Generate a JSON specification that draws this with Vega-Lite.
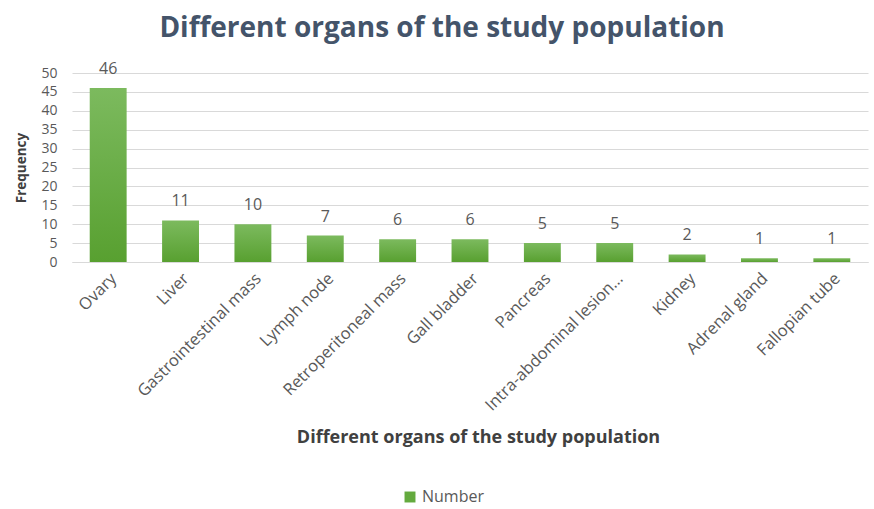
{
  "$schema": "https://vega.github.io/schema/vega-lite/v6.json",
  "width": 796,
  "height": 189,
  "autosize": {"type": "none"},
  "padding": {"left": 72, "top": 73, "right": 6, "bottom": 247},
  "background": "white",
  "config": {
    "font": "Open Sans",
    "view": {"stroke": null}
  },
  "title": {
    "text": "Different organs of the study population",
    "fontSize": 28,
    "fontWeight": "bold",
    "color": "#44546a",
    "anchor": "middle",
    "dx": -28,
    "offset": 18
  },
  "data": {
    "values": [
      {"organ": "Ovary", "count": 46, "series": "Number"},
      {"organ": "Liver", "count": 11, "series": "Number"},
      {"organ": "Gastrointestinal mass", "count": 10, "series": "Number"},
      {"organ": "Lymph node", "count": 7, "series": "Number"},
      {"organ": "Retroperitoneal mass", "count": 6, "series": "Number"},
      {"organ": "Gall bladder", "count": 6, "series": "Number"},
      {"organ": "Pancreas", "count": 5, "series": "Number"},
      {"organ": "Intra-abdominal lesion…", "count": 5, "series": "Number"},
      {"organ": "Kidney", "count": 2, "series": "Number"},
      {"organ": "Adrenal gland", "count": 1, "series": "Number"},
      {"organ": "Fallopian tube", "count": 1, "series": "Number"}
    ]
  },
  "encoding": {
    "x": {
      "field": "organ",
      "type": "nominal",
      "sort": null,
      "scale": {"paddingInner": 0.49, "paddingOuter": 0.245},
      "axis": {
        "title": "Different organs of the study population",
        "titleFontSize": 18,
        "titleFontWeight": "bold",
        "titleColor": "#404040",
        "titleBaseline": "middle",
        "titleX": 406,
        "titleY": 175,
        "labelAngle": -45,
        "labelAlign": "right",
        "labelBaseline": "top",
        "labelFontSize": 16.5,
        "labelColor": "#595959",
        "labelPadding": 8,
        "ticks": false,
        "domainColor": "#d9d9d9",
        "domainWidth": 1,
        "labelLimit": 300
      }
    },
    "y": {
      "field": "count",
      "type": "quantitative",
      "scale": {"domain": [0, 50], "nice": false},
      "axis": {
        "title": "Frequency",
        "titleFontSize": 13.5,
        "titleFontWeight": "bold",
        "titleColor": "#404040",
        "titlePadding": 12,
        "values": [0, 5, 10, 15, 20, 25, 30, 35, 40, 45, 50],
        "labelFontSize": 14,
        "labelColor": "#595959",
        "labelPadding": 15,
        "ticks": false,
        "domain": false,
        "gridColor": "#d9d9d9",
        "gridWidth": 1
      }
    }
  },
  "layer": [
    {
      "mark": {
        "type": "bar",
        "fill": {
          "gradient": "linear",
          "x1": 0, "y1": 0, "x2": 0, "y2": 1,
          "stops": [
            {"offset": 0, "color": "#7cba5e"},
            {"offset": 1, "color": "#58a030"}
          ]
        }
      }
    },
    {
      "mark": {"type": "text", "dy": -19, "fontSize": 16, "color": "#595959"},
      "encoding": {"text": {"field": "count", "type": "quantitative"}}
    },
    {
      "mark": {"type": "point", "opacity": 0, "shape": "square", "filled": true},
      "encoding": {
        "color": {
          "field": "series",
          "type": "nominal",
          "scale": {"range": ["#64aa3e"]},
          "legend": {
            "title": null,
            "orient": "none",
            "legendX": 330,
            "legendY": 416,
            "symbolType": "square",
            "symbolOpacity": 1,
            "symbolSize": 120,
            "symbolStrokeWidth": 0,
            "labelFontSize": 16,
            "labelColor": "#595959",
            "labelOffset": 4
          }
        }
      }
    }
  ]
}
